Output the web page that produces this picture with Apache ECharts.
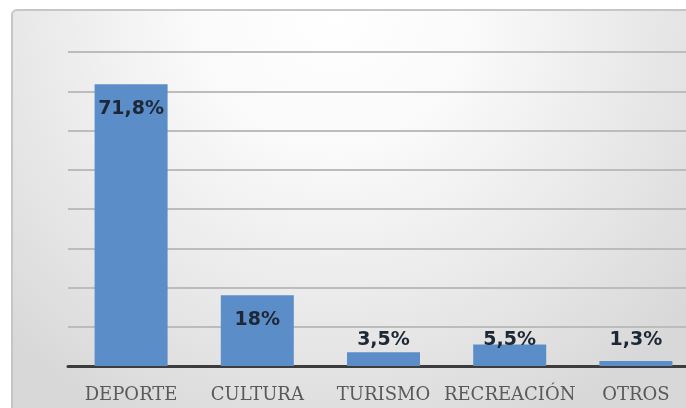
<!DOCTYPE html>
<html>
<head>
<meta charset="utf-8">
<script src="https://cdn.jsdelivr.net/npm/echarts@6/dist/echarts.min.js"></script>
<style>
  html, body { margin: 0; padding: 0; background: #ffffff; overflow: hidden; width: 686px; height: 408px; }
  #chart { width: 700px; height: 408px; }
</style>
</head>
<body>
<div id="chart"></div>
<script>
// Actividades preferidas (% de respuestas)
const categories = ['DEPORTE', 'CULTURA', 'TURISMO', 'RECREACIÓN', 'OTROS'];
const values = [71.8, 18, 3.5, 5.5, 1.3];
const valueLabels = ['71,8%', '18%', '3,5%', '5,5%', '1,3%'];
const axisMax = 80;
const axisStep = 10;

const chart = echarts.init(document.getElementById('chart'), null, { renderer: 'canvas' });

// Large bars carry their label inside the top; short ones show it above, near the base.
const barData = values.map((v, i) => ({
  value: v,
  label: v > 10
    ? { position: 'insideTop', distance: 15 }
    : { position: 'insideBottom', distance: 16 }
}));

chart.setOption({
  animation: false,
  backgroundColor: '#ffffff',
  graphic: [{
    type: 'rect',
    z: -10,
    silent: true,
    shape: { x: 12, y: 10, width: 700, height: 420, r: 5 },
    style: {
      fill: {
        type: 'radial', x: 0.46, y: 0.0, r: 1.1,
        colorStops: [
          { offset: 0, color: '#ffffff' },
          { offset: 0.3, color: '#fafafa' },
          { offset: 0.7, color: '#e7e7e7' },
          { offset: 1, color: '#d8d8d8' }
        ]
      },
      stroke: '#c6c6c6',
      lineWidth: 2
    }
  }],
  grid: { left: 68, width: 631, top: 52, height: 314, containLabel: false },
  xAxis: {
    type: 'category',
    data: categories,
    axisLine: { show: true, lineStyle: { color: '#3c3c3c', width: 3 } },
    axisTick: { show: false },
    axisLabel: {
      interval: 0,
      color: '#5a5a5a',
      fontFamily: 'DejaVu Serif',
      fontSize: 18,
      margin: 20
    }
  },
  yAxis: {
    type: 'value',
    min: 0,
    max: axisMax,
    interval: axisStep,
    axisLine: { show: false },
    axisTick: { show: false },
    axisLabel: { show: false },
    splitLine: { lineStyle: { color: '#bcbcbc', width: 2 } }
  },
  series: [{
    type: 'bar',
    data: barData,
    barWidth: 73,
    itemStyle: { color: '#5b8dc9' },
    label: {
      show: true,
      formatter: p => valueLabels[p.dataIndex],
      color: '#1e2735',
      fontFamily: 'DejaVu Sans',
      fontWeight: 'bold',
      fontSize: 19
    }
  }]
});
</script>
</body>
</html>
